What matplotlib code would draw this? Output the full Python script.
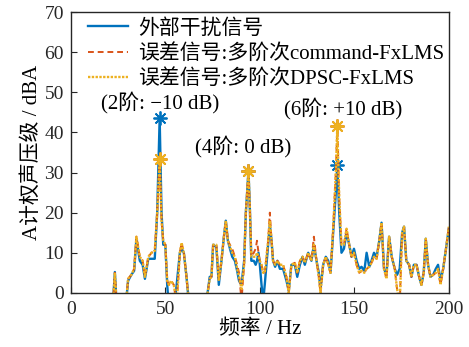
import matplotlib
matplotlib.use('Agg')
import matplotlib.pyplot as plt
import numpy as np

plt.rcParams['font.family'] = ['Liberation Serif', 'Noto Sans CJK SC']
plt.rcParams['axes.unicode_minus'] = True

#  Spectrum (values below 0 dBA are clipped by the axis)
freq = [22.0, 23.3, 24.5, 29.5, 30.3, 32.0, 33.5, 34.7, 36.5, 38.0, 39.2, 41.0, 42.7, 44.4, 45.7, 47.0,
        48.0, 48.9, 50.0, 51.0, 51.9, 53.0, 54.5, 56.0, 57.7, 58.6, 59.8, 61.2, 62.4, 71.8, 73.5, 74.4,
        75.3, 77.0, 78.3, 79.7, 81.0, 82.0, 83.1, 84.2, 85.4, 86.8, 88.0, 89.0, 90.3, 91.7, 92.6, 94.0,
        94.8, 95.5, 96.8, 97.8, 98.5, 99.3, 100.0, 100.9, 101.8, 102.6, 103.5, 104.4, 105.3, 106.2, 107.0,
        108.1, 109.3, 110.6, 112.3, 114.1, 115.3, 116.7, 118.5, 119.8, 121.2, 122.6, 123.8, 125.6, 127.3,
        128.6, 130.0, 131.2, 132.1, 133.5, 134.9, 136.2, 137.4, 138.8, 140.2, 141.0, 142.0, 143.2, 144.5,
        145.9, 147.3, 148.5, 149.8, 151.2, 152.6, 153.8, 155.3, 156.5, 157.9, 159.1, 160.4, 161.8, 163.2,
        164.4, 165.7, 167.0, 168.4, 169.8, 171.4, 172.6, 174.0, 175.3, 176.3, 177.5, 179.0, 180.2, 181.5,
        182.9, 184.3, 185.5, 186.7, 187.8, 189.0, 190.3, 191.7, 193.1, 194.3, 195.6, 197.0, 198.5, 200.0]

external = [-5, 5.2, -5, -1, 3, 4.5, 5.5, 13.5, 8, 7, 3.5, 8.5, 8.5, 8.5, 20, 43.5,
            20, 12, 12, 2, -4, -4, -4, 2, 10, 11, 10, 4, -2, -2, 4, 4,
            12, 11.5, 2, 8, 14, 18, 13, 11, 9, 8, 5.5, 3, 2, 8, 20, 30.5,
            20, 8, 8, 7, 8, 10, 7, 2, -2, 2, 7, 12, 17, 13, 8,
            6.5, 8, 6, 6, 3, 0.5, 7, 7, 4, 7, 9, 7, 10, 8,
            12, 8, 5, 1, 7, 9, 8, 5, 15, 25, 32, 20, 10, 11,
            15, 12, 9, 11, 8, 6, 6.5, 5.5, 10, 6.5, 8, 10, 9, 13,
            17.5, 6, 4.5, 14, 9, 6, 4.5, 6, 15, 16.5, 8, 7, 4, 7,
            7, 4, 2, 5, 13.5, 7, 4, 4.5, 6, 7, 3, 6, 11, 16]

error_command = [-5, 5.0, -5, -1, 3.5, 4.5, 6, 14, 9, 8, 4, 9, 10, 10.5, 20, 33.5,
                 18, 13, 12, 3, 2, 3, 2, -3, 10, 12.5, 10, 4, -2, -2, 3.5, 4,
                 12, 12, 3, 8, 14, 18, 13, 12, 11, 9, 7, 5, -2, 7, 20, 30.5,
                 20, 9, 10, 11, 13, 10, 8, 7, 5, 5, 9, 13, 20, 13, 8,
                 7, 8, 7, 7, 4, 0, 7, 7.5, 5, 8, 9, 7.5, 10, 8,
                 14, 8, 4, 0, 7, 9, 7, 5, 16, 30, 41.5, 24, 12, 12,
                 16, 12, 9, 10, 7, 5, 5.5, 5, 6, 6.5, 7.5, 9, 8.5, 13,
                 17.5, 6, 3.5, 14, 9, 6, 1, -3, 15, 16.5, 8, 7, 4, 7,
                 7, 4, 2, 5, 13.5, 7, 4, 4.5, 5, 6, 2, 6, 11, 16.5]

error_dpsc = [-5, 5.0, -5, -1, 3.5, 4.5, 6, 14, 9, 8, 4, 9, 10, 10.5, 20, 33.5,
              18, 13, 12, 3, 2, 3, 2, -3, 10, 12.5, 10, 4, -2, -2, 3.5, 4,
              12, 12, 3, 8, 14, 18, 13, 11.5, 10, 9, 6, 4, 1, 7, 20, 30.5,
              20, 9, 9, 9, 10, 9, 8, 7, 5, 5, 9, 13, 18, 13, 8,
              7, 8, 7, 7, 4, 0, 7, 7.5, 5, 8, 9, 7.5, 10, 8,
              12, 8, 4, 0, 7, 9, 7, 5, 16, 30, 41.5, 24, 12, 12,
              16, 12, 9, 10, 7, 5, 5.5, 5, 6, 6.5, 7.5, 9, 8.5, 13,
              17.5, 6, 3.5, 14, 9, 6, 1, -3, 15, 16.5, 8, 7, 4, 7,
              7, 4, 2, 5, 13.5, 7, 4, 4.5, 5, 6, 2, 6, 11, 16.5]

peak_freqs = [47.0, 94.0, 141.0]
peak_labels = ['(2阶: \u221210 dB)', '(4阶: 0 dB)', '(6阶: +10 dB)']
label_pos = [(47.5, 47.5), (91.0, 36.6), (144.0, 46.0)]

blue = '#0072BD'
red = '#D95319'
orange = '#EDB120'
asterisk = (8, 2, 0)


def plot_spectrum(ax, values, label, color, linestyle, lw):
    peaks = [freq.index(f) for f in peak_freqs]
    ax.plot(freq, values, color=color, linestyle=linestyle, lw=lw, label=label)
    ax.plot([freq[i] for i in peaks], [values[i] for i in peaks], linestyle='none',
            marker=asterisk, markersize=10, markeredgewidth=1.3, color=color)


fig = plt.figure(figsize=(4.69, 3.47), dpi=100)
ax = fig.add_axes([0.151, 0.156, 0.806, 0.809])

plot_spectrum(ax, external, '外部干扰信号', blue, '-', 1.7)
plot_spectrum(ax, error_command, '误差信号:多阶次command-FxLMS', red, (0, (3, 2)), 1.4)
plot_spectrum(ax, error_dpsc, '误差信号:多阶次DPSC-FxLMS', orange, (0, (1, 0.6)), 1.7)

for text, (x, y) in zip(peak_labels, label_pos):
    ax.text(x, y, text, ha='center', va='center', fontsize=15)

ax.set_xlim(0, 200)
ax.set_ylim(0, 70)
ax.set_xticks([0, 50, 100, 150, 200])
ax.set_yticks(np.arange(0, 71, 10))
ax.tick_params(direction='in', length=4, labelsize=14, colors='#262626')
ax.tick_params(axis='x', pad=6)
ax.tick_params(axis='y', pad=5)
for spine in ax.spines.values():
    spine.set_color('#262626')
    spine.set_linewidth(1.0)
ax.set_xlabel('频率 / Hz', fontsize=15, labelpad=1)
ax.set_ylabel('A计权声压级 / dBA', fontsize=15, labelpad=2)

handles, labels = ax.get_legend_handles_labels()
ax.legend(handles, labels, loc='upper left', bbox_to_anchor=(0.035, 0.99), frameon=False,
          fontsize=15, handlelength=1.9, handletextpad=0.5, labelspacing=0.25,
          borderaxespad=0.1, borderpad=0.1)

fig.savefig('out.png', dpi=100)
